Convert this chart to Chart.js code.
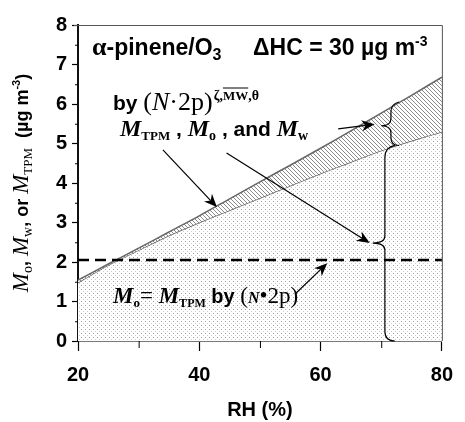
<!DOCTYPE html>
<html>
<head>
<meta charset="utf-8">
<script src="https://cdn.jsdelivr.net/npm/chart.js@4"></script>
<style>
  body { margin: 0; background: #fff; }
  canvas { display: block; }
</style>
</head>
<body>
<canvas id="chart" width="465" height="422"></canvas>
<script>
// RH (%) vs aerosol mass (ug m-3)
const rh = [20, 25, 30, 35, 40, 45, 50, 55, 60, 65, 70, 75, 80];
const lowerMo = [1.48, 1.92, 2.3, 2.67, 3.0, 3.31, 3.62, 3.93, 4.24, 4.53, 4.82, 5.07, 5.3];
const upperTPM = [1.54, 1.95, 2.35, 2.76, 3.17, 3.6, 4.03, 4.45, 4.88, 5.32, 5.77, 6.22, 6.68];
const dashedLevel = 2.05;
const xMinor = [30, 50, 70];
const yMinor = [0.5, 1.5, 2.5, 3.5, 4.5, 5.5, 6.5, 7.5];

const SANS = '"Liberation Sans", Arial, sans-serif';
const SERIF = '"Liberation Serif", "Times New Roman", serif';

function dotPattern() {
  const c = document.createElement('canvas');
  c.width = 4; c.height = 4;
  const g = c.getContext('2d');
  g.fillStyle = '#fff';
  g.fillRect(0, 0, 4, 4);
  g.fillStyle = '#a0a0a0';
  g.fillRect(1, 1, 1, 1);
  g.fillStyle = '#cacaca';
  g.fillRect(3, 3, 1, 1);
  return g.createPattern(c, 'repeat');
}

function hatchPattern() {
  const c = document.createElement('canvas');
  c.width = 4; c.height = 4;
  const g = c.getContext('2d');
  g.fillStyle = '#fff';
  g.fillRect(0, 0, 4, 4);
  g.fillStyle = '#8a8a8a';
  for (let i = 0; i < 4; i++) g.fillRect(i, i, 1, 1);
  return g.createPattern(c, 'repeat');
}

// draw a row of text pieces with different fonts, returns end x
function runs(ctx, x, y, parts) {
  let cx = x;
  parts.forEach(p => {
    ctx.font = p.f;
    ctx.fillText(p.t, cx, y + (p.dy || 0));
    const w = ctx.measureText(p.t).width;
    if (p.over) {
      ctx.lineWidth = 1;
      ctx.beginPath();
      ctx.moveTo(cx, y + p.dy - 12);
      ctx.lineTo(cx + w, y + p.dy - 12);
      ctx.stroke();
    }
    cx += w + (p.sp || 0);
  });
  return cx;
}

function runsWidth(ctx, parts) {
  let w = 0;
  parts.forEach(p => { ctx.font = p.f; w += ctx.measureText(p.t).width + (p.sp || 0); });
  return w;
}

function arrow(ctx, x1, y1, x2, y2) {
  const a = Math.atan2(y2 - y1, x2 - x1);
  const len = 13, half = 5.5, notch = 9;
  ctx.lineWidth = 1.2;
  ctx.beginPath();
  ctx.moveTo(x1, y1);
  ctx.lineTo(x2 - Math.cos(a) * notch, y2 - Math.sin(a) * notch);
  ctx.stroke();
  ctx.save();
  ctx.translate(x2, y2);
  ctx.rotate(a);
  ctx.beginPath();
  ctx.moveTo(0, 0);
  ctx.lineTo(-len, -half);
  ctx.lineTo(-notch, 0);
  ctx.lineTo(-len, half);
  ctx.closePath();
  ctx.fill();
  ctx.restore();
}

function brace(ctx, x, top, mid, bot, tip, hook) {
  ctx.lineWidth = 1.2;
  ctx.beginPath();
  ctx.moveTo(x + hook, top - 2);
  ctx.quadraticCurveTo(x, top, x, top + hook);
  ctx.lineTo(x, mid - 7);
  ctx.quadraticCurveTo(x, mid, tip, mid);
  ctx.quadraticCurveTo(x, mid, x, mid + 7);
  ctx.lineTo(x, bot - hook);
  ctx.quadraticCurveTo(x, bot, x + hook, bot);
  ctx.stroke();
}

const decor = {
  id: 'decor',
  afterDraw(chart) {
    const ctx = chart.ctx;
    const xs = chart.scales.x, ys = chart.scales.y;
    const px = v => xs.getPixelForValue(v);
    const py = v => ys.getPixelForValue(v);
    const a = chart.chartArea;
    ctx.save();
    // top and right frame
    ctx.strokeStyle = '#555';
    ctx.lineWidth = 1;
    ctx.beginPath();
    ctx.moveTo(a.left - 4, a.top + 0.5);
    ctx.lineTo(a.right + 0.5, a.top + 0.5);
    ctx.lineTo(a.right + 0.5, a.bottom);
    ctx.stroke();
    // minor ticks
    ctx.strokeStyle = '#000';
    ctx.beginPath();
    yMinor.forEach(v => { ctx.moveTo(a.left - 3, py(v) + 0.5); ctx.lineTo(a.left, py(v) + 0.5); });
    xMinor.forEach(v => { ctx.moveTo(px(v) + 0.5, a.bottom); ctx.lineTo(px(v) + 0.5, a.bottom + 7); });
    ctx.stroke();

    ctx.fillStyle = '#000';
    ctx.strokeStyle = '#000';
    ctx.textBaseline = 'alphabetic';
    ctx.textAlign = 'left';

    // header
    runs(ctx, 92, 55, [
      { t: 'α', f: 'bold 26px ' + SERIF },
      { t: '-pinene/O', f: 'bold 23px ' + SANS },
      { t: '3', f: 'bold 16px ' + SANS, dy: 5 }
    ]);
    runs(ctx, 253, 55, [
      { t: 'ΔHC = 30 µg m', f: 'bold 23px ' + SANS },
      { t: '-3', f: 'bold 14px ' + SANS, dy: -9 }
    ]);

    // by (N-2p)^{zeta, MW, theta}
    runs(ctx, 113, 110, [
      { t: 'by ', f: 'bold 21px ' + SANS },
      { t: '(', f: '26px ' + SERIF },
      { t: 'N', f: 'italic 26px ' + SERIF },
      { t: '·2p)', f: '26px ' + SERIF, sp: 1 },
      { t: 'ζ,', f: 'bold 14px ' + SERIF, dy: -10 },
      { t: 'MW', f: 'bold 13px ' + SERIF, dy: -10, over: true },
      { t: ',θ', f: 'bold 14px ' + SERIF, dy: -10 }
    ]);

    // M_TPM, M_o, and M_w
    runs(ctx, 120, 136, [
      { t: 'M', f: 'italic bold 24px ' + SERIF },
      { t: 'TPM', f: 'bold 13px ' + SERIF, dy: 4 },
      { t: ' , ', f: 'bold 21px ' + SANS },
      { t: 'M', f: 'italic bold 24px ' + SERIF },
      { t: 'o', f: 'bold 14px ' + SERIF, dy: 4 },
      { t: ' , and ', f: 'bold 21px ' + SANS },
      { t: 'M', f: 'italic bold 24px ' + SERIF },
      { t: 'w', f: 'bold 14px ' + SERIF, dy: 4 }
    ]);

    // M_o = M_TPM by (N*2p)
    runs(ctx, 113, 303, [
      { t: 'M', f: 'italic bold 23px ' + SERIF },
      { t: 'o', f: 'bold 13px ' + SERIF, dy: 4 },
      { t: '= ', f: '23px ' + SERIF },
      { t: 'M', f: 'italic bold 23px ' + SERIF },
      { t: 'TPM', f: 'bold 12px ' + SERIF, dy: 4 },
      { t: ' by ', f: 'bold 20px ' + SANS },
      { t: '(', f: '23px ' + SERIF },
      { t: 'N', f: 'italic bold 16px ' + SERIF },
      { t: '•2p)', f: '23px ' + SERIF }
    ]);

    // arrows (data coordinates)
    arrow(ctx, px(62.9), py(5.37), px(68.9), py(5.49));
    arrow(ctx, px(34.0), py(4.84), px(42.9), py(3.39));
    arrow(ctx, px(44.5), py(4.76), px(68.1), py(2.48));
    arrow(ctx, px(55.8), py(1.19), px(61.1), py(1.97));

    // braces
    brace(ctx, px(71.6), py(6.0), py(5.45), py(4.95), px(70.0), 8);
    brace(ctx, px(70.6), py(4.9), py(2.48), py(0), px(68.6), 10);

    // y axis title, rotated
    const yt = [
      { t: 'M', f: 'italic 23px ' + SERIF },
      { t: 'o', f: '14px ' + SERIF, dy: 4 },
      { t: ', ', f: 'bold 18px ' + SANS },
      { t: 'M', f: 'italic 23px ' + SERIF },
      { t: 'w', f: '14px ' + SERIF, dy: 4 },
      { t: ', or ', f: 'bold 18px ' + SANS },
      { t: 'M', f: 'italic 23px ' + SERIF },
      { t: 'TPM', f: '13px ' + SERIF, dy: 4 },
      { t: '  (µg m', f: 'bold 18px ' + SANS },
      { t: '-3', f: 'bold 11px ' + SANS, dy: -8 },
      { t: ')', f: 'bold 18px ' + SANS }
    ];
    ctx.translate(28, (a.top + a.bottom) / 2);
    ctx.rotate(-Math.PI / 2);
    runs(ctx, -runsWidth(ctx, yt) / 2, 0, yt);
    ctx.restore();
  }
};

new Chart(document.getElementById('chart'), {
  type: 'line',
  data: {
    datasets: [
      {
        label: 'Mo',
        data: rh.map((x, i) => ({ x: x, y: lowerMo[i] })),
        borderColor: '#666',
        borderWidth: 1.5,
        backgroundColor: dotPattern(),
        fill: 'origin',
        tension: 0.3,
        pointRadius: 0,
        order: 2
      },
      {
        label: 'MTPM',
        data: rh.map((x, i) => ({ x: x, y: upperTPM[i] })),
        borderColor: '#666',
        borderWidth: 1.5,
        backgroundColor: hatchPattern(),
        fill: '-1',
        tension: 0.3,
        pointRadius: 0,
        order: 1
      },
      {
        label: 'N2p',
        data: [{ x: 20, y: dashedLevel }, { x: 80, y: dashedLevel }],
        borderColor: '#000',
        borderWidth: 2.5,
        borderDash: [11, 6],
        fill: false,
        pointRadius: 0,
        order: 0
      }
    ]
  },
  options: {
    responsive: false,
    animation: false,
    devicePixelRatio: 1,
    layout: { padding: { left: 0, right: 15, top: 25, bottom: 0 } },
    plugins: { legend: { display: false }, tooltip: { enabled: false } },
    scales: {
      x: {
        type: 'linear',
        min: 20,
        max: 80,
        afterFit: s => { s.height = 81; },
        ticks: { stepSize: 20, padding: 12, color: '#000', font: { family: SANS, size: 20, weight: 'bold' } },
        grid: { drawOnChartArea: false, tickLength: 10, tickColor: '#000', tickWidth: 1.2 },
        border: { color: '#777', width: 2 },
        title: {
          display: true,
          text: 'RH (%)',
          color: '#000',
          font: { family: SANS, size: 20, weight: 'bold' },
          padding: { top: 0, bottom: 0 }
        }
      },
      y: {
        min: 0,
        max: 8,
        afterFit: s => { s.width = 78; },
        ticks: { stepSize: 1, padding: 5, color: '#000', font: { family: SANS, size: 20, weight: 'bold' } },
        grid: { drawOnChartArea: false, tickLength: 6, tickColor: '#000', tickWidth: 1.2 },
        border: { color: '#111', width: 2 }
      }
    }
  },
  plugins: [decor]
});
</script>
</body>
</html>
